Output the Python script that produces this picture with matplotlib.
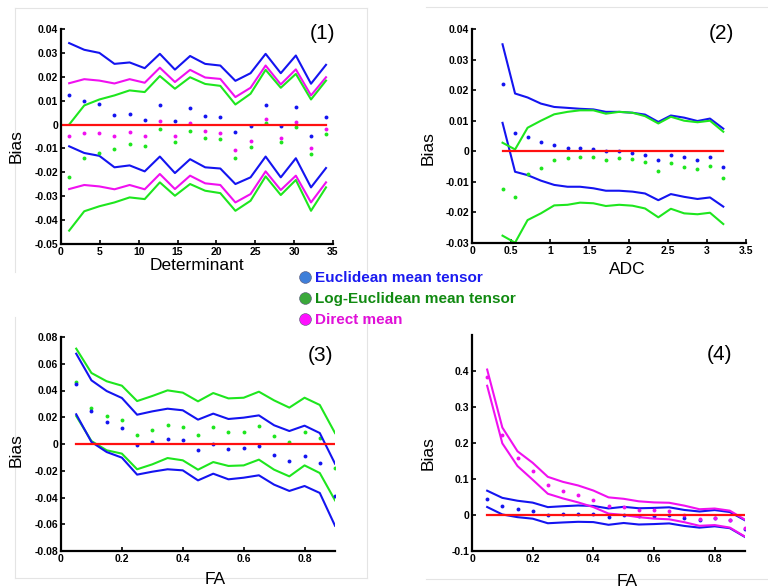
import numpy as np
import matplotlib
matplotlib.use("Agg")
import matplotlib.pyplot as plt
from matplotlib.lines import Line2D
from matplotlib.ticker import FuncFormatter

plt.rcParams['font.family'] = ['Liberation Sans', 'DejaVu Sans']

BLUE = '#1414f0'
GREEN = '#1ee61e'
MAGENTA = '#f010f0'
RED = '#ff1010'

# ---------------- Panel 1: Determinant ----------------
det_x = [1.05, 2.99, 4.94, 6.88, 8.83, 10.77, 12.72, 14.66, 16.61, 18.55,
         20.5, 22.44, 24.39, 26.33, 28.28, 30.22, 32.17, 34.1]
det_blue_up = [0.0341, 0.0313, 0.0300, 0.0254, 0.0260, 0.0236, 0.0296, 0.0230, 0.0287,
               0.0254, 0.0247, 0.0183, 0.0215, 0.0296, 0.0215, 0.0289, 0.0171, 0.0250]
det_blue_lo = [-0.0091, -0.0119, -0.0131, -0.0179, -0.0171, -0.0196, -0.0134, -0.0203, -0.0145,
               -0.0179, -0.0184, -0.0249, -0.0221, -0.0134, -0.0221, -0.0141, -0.0263, -0.0182]
det_blue_pt = [0.0124, 0.0098, 0.0084, 0.0038, 0.0043, 0.0021, 0.0080, 0.0014, 0.0070,
               0.0035, 0.0031, -0.0032, -0.0004, 0.0080, -0.0006, 0.0073, -0.0049, 0.0032]
det_mag_up = [0.0173, 0.0190, 0.0184, 0.0172, 0.0190, 0.0175, 0.0238, 0.0178, 0.0229,
              0.0197, 0.0191, 0.0115, 0.0154, 0.0247, 0.0168, 0.0231, 0.0122, 0.0198]
det_mag_lo = [-0.0270, -0.0253, -0.0259, -0.0271, -0.0253, -0.0271, -0.0207, -0.0270, -0.0214,
              -0.0246, -0.0253, -0.0326, -0.0291, -0.0196, -0.0274, -0.0214, -0.0326, -0.0242]
det_mag_pt = [-0.0049, -0.0036, -0.0036, -0.0050, -0.0032, -0.0050, 0.0014, -0.0046, 0.0006,
              -0.0028, -0.0034, -0.0106, -0.0067, 0.0025, -0.0055, 0.0010, -0.0099, -0.0020]
det_grn_up = [0.0000, 0.0080, 0.0105, 0.0122, 0.0143, 0.0136, 0.0203, 0.0150, 0.0198,
              0.0170, 0.0162, 0.0084, 0.0129, 0.0229, 0.0154, 0.0212, 0.0105, 0.0184]
det_grn_lo = [-0.0444, -0.0363, -0.0342, -0.0326, -0.0305, -0.0312, -0.0242, -0.0298, -0.0249,
              -0.0277, -0.0287, -0.0361, -0.0319, -0.0217, -0.0295, -0.0232, -0.0361, -0.0263]
det_grn_pt = [-0.0221, -0.0141, -0.0119, -0.0102, -0.0082, -0.0088, -0.0020, -0.0074, -0.0025,
              -0.0056, -0.0061, -0.0140, -0.0095, 0.0007, -0.0073, -0.0011, -0.0123, -0.0039]

# ---------------- Panel 2: ADC ----------------
adc_x = [0.39, 0.55, 0.71, 0.88, 1.05, 1.22, 1.38, 1.55, 1.71, 1.88,
         2.05, 2.21, 2.38, 2.54, 2.71, 2.88, 3.04, 3.21]
adc_blue_up = [0.0350, 0.0189, 0.0176, 0.0156, 0.0145, 0.0142, 0.0139, 0.0137, 0.0129,
               0.0129, 0.0126, 0.0120, 0.0096, 0.0117, 0.0110, 0.0099, 0.0107, 0.0074]
adc_blue_lo = [0.0093, -0.0067, -0.0078, -0.0096, -0.0110, -0.0116, -0.0116, -0.0121, -0.0129,
               -0.0129, -0.0132, -0.0138, -0.0160, -0.0140, -0.0149, -0.0156, -0.0151, -0.0181]
adc_blue_pt = [0.0221, 0.0060, 0.0047, 0.0029, 0.0019, 0.0012, 0.0011, 0.0008, 0.0000,
               0.0000, -0.0004, -0.0012, -0.0030, -0.0013, -0.0018, -0.0027, -0.0020, -0.0053]
adc_grn_up = [0.0028, 0.0006, 0.0077, 0.0100, 0.0121, 0.0129, 0.0134, 0.0134, 0.0123,
              0.0129, 0.0126, 0.0115, 0.0091, 0.0113, 0.0100, 0.0095, 0.0100, 0.0064]
adc_grn_lo = [-0.0276, -0.0299, -0.0225, -0.0203, -0.0177, -0.0175, -0.0168, -0.0170, -0.0179,
              -0.0175, -0.0178, -0.0187, -0.0216, -0.0188, -0.0203, -0.0206, -0.0201, -0.0238]
adc_grn_pt = [-0.0125, -0.0149, -0.0073, -0.0054, -0.0027, -0.0022, -0.0018, -0.0018, -0.0027,
              -0.0022, -0.0026, -0.0036, -0.0064, -0.0038, -0.0051, -0.0057, -0.0049, -0.0089]

# ---------------- Panel 3 & 4: FA ----------------
fa_x = [0.05, 0.10, 0.15, 0.20, 0.25, 0.30, 0.35, 0.40, 0.45, 0.50,
        0.55, 0.60, 0.65, 0.70, 0.75, 0.80, 0.85, 0.90]
fa_blue_up = [0.0675, 0.0476, 0.0396, 0.0344, 0.0219, 0.0244, 0.0264, 0.0252, 0.0182,
              0.0227, 0.0187, 0.0197, 0.0214, 0.0140, 0.0097, 0.0137, 0.0082, -0.0147]
fa_blue_lo = [0.0222, 0.0015, -0.0060, -0.0102, -0.0229, -0.0207, -0.0189, -0.0197, -0.0272,
              -0.0222, -0.0264, -0.0252, -0.0234, -0.0304, -0.0351, -0.0314, -0.0366, -0.0611]
fa_blue_pt = [0.0451, 0.0247, 0.0167, 0.0117, -0.0007, 0.0015, 0.0035, 0.0027, -0.0042,
              0.0000, -0.0040, -0.0027, -0.0012, -0.0082, -0.0127, -0.0087, -0.0142, -0.0386]
fa_grn_up = [0.0713, 0.0531, 0.0469, 0.0436, 0.0321, 0.0359, 0.0401, 0.0384, 0.0319,
             0.0381, 0.0341, 0.0346, 0.0391, 0.0326, 0.0272, 0.0346, 0.0292, 0.0082]
fa_grn_lo = [0.0209, 0.0022, -0.0047, -0.0072, -0.0189, -0.0152, -0.0105, -0.0122, -0.0192,
             -0.0135, -0.0164, -0.0160, -0.0117, -0.0192, -0.0242, -0.0160, -0.0217, -0.0421]
fa_grn_pt = [0.0461, 0.0272, 0.0209, 0.0182, 0.0067, 0.0102, 0.0145, 0.0130, 0.0065,
             0.0125, 0.0087, 0.0092, 0.0135, 0.0060, 0.0015, 0.0092, 0.0042, -0.0177]
fa_mag_up = [0.404, 0.243, 0.177, 0.145, 0.106, 0.092, 0.082, 0.068, 0.049,
             0.045, 0.038, 0.035, 0.034, 0.026, 0.016, 0.018, 0.012, -0.013]
fa_mag_lo = [0.359, 0.199, 0.136, 0.098, 0.059, 0.046, 0.035, 0.022, 0.004,
             0.000, -0.006, -0.010, -0.012, -0.020, -0.030, -0.028, -0.035, -0.060]
fa_mag_pt = [0.382, 0.221, 0.157, 0.121, 0.083, 0.067, 0.056, 0.042, 0.026,
             0.023, 0.015, 0.013, 0.011, 0.001, -0.011, -0.009, -0.013, -0.035]

legend_labels = ['Euclidean mean tensor', 'Log-Euclidean mean tensor', 'Direct mean']
legend_colors = ['#1a1af0', '#118a11', '#e010d8']
legend_marker = ['#3f7fd9', '#3aa83a', '#ff10ff']

W, H = 768, 588
fig = plt.figure(figsize=(W / 100, H / 100), dpi=100)


def px_axes(l, t, r, b):
    return fig.add_axes([l / W, 1 - b / H, (r - l) / W, (b - t) / H])


def style(ax):
    ax.spines['top'].set_visible(False)
    ax.spines['right'].set_visible(False)
    for s in ['left', 'bottom']:
        ax.spines[s].set_linewidth(1.6)
    ax.tick_params(direction='in', length=3, width=1.2, labelsize=7.5, pad=2)
    for lab in ax.get_xticklabels() + ax.get_yticklabels():
        lab.set_fontweight('bold')


def series(ax, x, up, lo, pt, color):
    ax.plot(x, up, color=color, lw=1.5)
    ax.plot(x, lo, color=color, lw=1.5)
    ax.plot(x, pt, 'o', color=color, ms=2.8, mec='none')


f2 = FuncFormatter(lambda v, p: '0' if abs(v) < 1e-9 else '%.2f' % v)
f1 = FuncFormatter(lambda v, p: '0' if abs(v) < 1e-9 else '%.1f' % v)

# Panel 1
ax1 = px_axes(61, 29, 333, 244)
series(ax1, det_x, det_blue_up, det_blue_lo, det_blue_pt, BLUE)
series(ax1, det_x, det_mag_up, det_mag_lo, det_mag_pt, MAGENTA)
series(ax1, det_x, det_grn_up, det_grn_lo, det_grn_pt, GREEN)
ax1.plot([0.2, det_x[-1]], [0, 0], color=RED, lw=1.6)
ax1.set_xlim(0, 35)
ax1.set_ylim(-0.05, 0.04)
ax1.set_xticks(np.arange(0, 36, 5))
ax1.set_yticks(np.arange(-0.05, 0.0401, 0.01))
ax1.yaxis.set_major_formatter(f2)
style(ax1)
ax1.text(1.01, 1.025, '(1)', transform=ax1.transAxes, ha='right', va='top', fontsize=15)

# Panel 2
ax2 = px_axes(472, 29, 746, 243)
series(ax2, adc_x, adc_blue_up, adc_blue_lo, adc_blue_pt, BLUE)
series(ax2, adc_x, adc_grn_up, adc_grn_lo, adc_grn_pt, GREEN)
ax2.plot([adc_x[0], adc_x[-1]], [0, 0], color=RED, lw=1.6)
ax2.set_xlim(0, 3.5)
ax2.set_ylim(-0.03, 0.04)
ax2.set_xticks(np.arange(0, 3.51, 0.5))
ax2.xaxis.set_major_formatter(FuncFormatter(lambda v, p: ('%g' % v)))
ax2.set_yticks(np.arange(-0.03, 0.0401, 0.01))
ax2.yaxis.set_major_formatter(f2)
style(ax2)
ax2.text(0.955, 1.025, '(2)', transform=ax2.transAxes, ha='right', va='top', fontsize=15)

# Panel 3
ax3 = px_axes(61, 337, 335, 551)
series(ax3, fa_x, fa_grn_up, fa_grn_lo, fa_grn_pt, GREEN)
series(ax3, fa_x, fa_blue_up, fa_blue_lo, fa_blue_pt, BLUE)
ax3.plot([fa_x[0], fa_x[-1]], [0, 0], color=RED, lw=1.6)
ax3.set_xlim(0, 0.9)
ax3.set_ylim(-0.08, 0.08)
ax3.set_xticks(np.arange(0, 0.81, 0.2))
ax3.xaxis.set_major_formatter(f1)
ax3.set_yticks(np.arange(-0.08, 0.0801, 0.02))
ax3.yaxis.set_major_formatter(f2)
style(ax3)
ax3.text(0.995, 0.96, '(3)', transform=ax3.transAxes, ha='right', va='top', fontsize=15)

# Panel 4
ax4 = px_axes(472, 335, 745, 551)
series(ax4, fa_x, fa_blue_up, fa_blue_lo, fa_blue_pt, BLUE)
series(ax4, fa_x, fa_mag_up, fa_mag_lo, fa_mag_pt, MAGENTA)
ax4.plot([fa_x[0], fa_x[-1]], [0, 0], color=RED, lw=1.6)
ax4.set_xlim(0, 0.9)
ax4.set_ylim(-0.1, 0.5)
ax4.set_xticks(np.arange(0, 0.81, 0.2))
ax4.xaxis.set_major_formatter(f1)
ax4.set_yticks(np.arange(-0.1, 0.401, 0.1))
ax4.yaxis.set_major_formatter(f1)
style(ax4)
ax4.text(0.955, 0.955, '(4)', transform=ax4.transAxes, ha='right', va='top', fontsize=15)


def ftext(x, y, s, **kw):
    fig.text(x / W, 1 - y / H, s, **kw)


lab = dict(fontsize=12.5, ha='center', va='center')
ftext(197, 266, 'Determinant', **lab)
ftext(627, 270, 'ADC', **lab)
ftext(215, 579, 'FA', **lab)
ftext(627, 581, 'FA', **lab)
ftext(16, 146, 'Bias', rotation=90, **lab)
ftext(428, 148, 'Bias', rotation=90, **lab)
ftext(16, 450, 'Bias', rotation=90, **lab)
ftext(428, 453, 'Bias', rotation=90, **lab)

# faint sub-figure frames
fc = '#e4e4e4'
for (x0, y0, x1, y1) in [(15, 8, 367, 8), (15, 8, 15, 272), (367, 8, 367, 272),
                         (426, 7, 768, 7), (15, 317, 15, 578), (367, 317, 367, 578),
                         (15, 578, 367, 578), (426, 579, 768, 579)]:
    fig.add_artist(Line2D([x0 / W, x1 / W], [1 - y0 / H, 1 - y1 / H], color=fc, lw=0.8))

# legend
for i, (t, c, mc) in enumerate(zip(legend_labels, legend_colors, legend_marker)):
    yy = 277 + i * 21
    fig.add_artist(Line2D([305 / W], [1 - yy / H], marker='o', ms=8.5, color=mc,
                          mec='#555577', mew=0.4, ls='none'))
    ftext(315, yy + 1, t, fontsize=11, fontweight='bold', color=c, ha='left', va='center')

fig.savefig('out.png', dpi=100)
